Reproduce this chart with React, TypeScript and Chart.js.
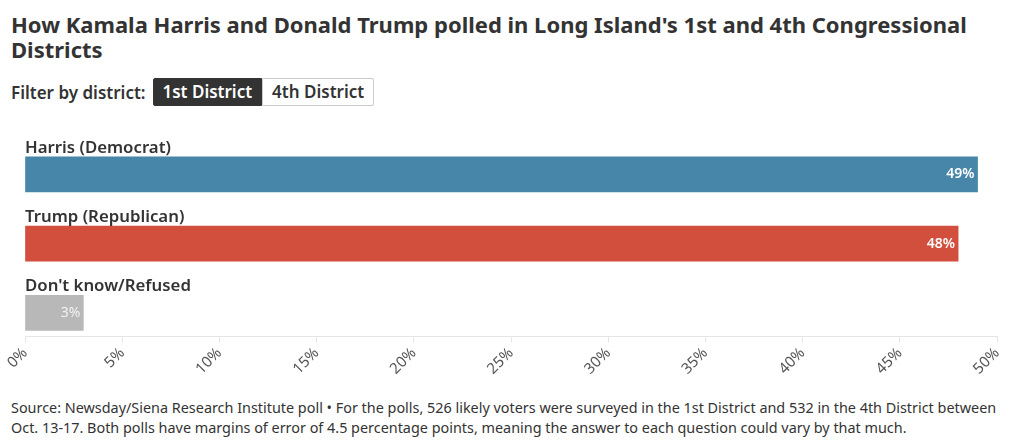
import React, { useEffect, useRef } from "react";
import { Chart, registerables } from "chart.js";

Chart.register(...registerables);

const TITLE =
  "How Kamala Harris and Donald Trump polled in Long Island's 1st and 4th Congressional Districts";
const FILTER_LABEL = "Filter by district:";
const DISTRICTS = ["1st District", "4th District"];
const ACTIVE_DISTRICT = 0;
const CATEGORIES = ["Harris (Democrat)", "Trump (Republican)", "Don't know/Refused"];
const VALUES = [49, 48, 3];
const COLORS = ["#4786a9", "#d24f3d", "#b8b8b8"];
const X_MIN = 0;
const X_MAX = 50;
const X_STEP = 5;
const SOURCE =
  "Source: Newsday/Siena Research Institute poll \u2022 For the polls, 526 likely voters were surveyed in the 1st District and 532 in the 4th District between Oct. 13-17. Both polls have margins of error of 4.5 percentage points, meaning the answer to each question could vary by that much.";

const FONT = "'Noto Sans', 'Open Sans', sans-serif";
const TEXT = "#333333";

const labelPlugin = {
  id: "barLabels",
  afterDatasetsDraw(chart: any) {
    const ctx = chart.ctx;
    const meta = chart.getDatasetMeta(0);
    const xScale = chart.scales.x;
    ctx.save();
    meta.data.forEach((bar: any, i: number) => {
      const h = bar.height;
      const top = bar.y - h / 2;
      ctx.fillStyle = TEXT;
      ctx.font = `600 16.8px ${FONT}`;
      ctx.textAlign = "left";
      ctx.textBaseline = "alphabetic";
      ctx.fillText(CATEGORIES[i], xScale.left, top - 4);
      ctx.fillStyle = i === 2 ? "#f2f2f2" : "#ffffff";
      ctx.font = `${i === 2 ? 400 : 600} 14px ${FONT}`;
      ctx.textAlign = "right";
      ctx.textBaseline = "middle";
      ctx.fillText(VALUES[i] + "%", bar.x - 3, bar.y);
    });
    ctx.restore();
  },
};

function BarChart() {
  const ref = useRef<HTMLCanvasElement | null>(null);
  useEffect(() => {
    if (!ref.current) return;
    const chart = new Chart(ref.current, {
      type: "bar",
      data: {
        datasets: [
          {
            data: VALUES.map((v, i) => ({ x: v, y: i })),
            backgroundColor: COLORS,
            borderWidth: 0,
            barThickness: 35,
          },
        ],
      },
      options: {
        indexAxis: "y",
        animation: false,
        responsive: false,
        maintainAspectRatio: false,
        layout: { padding: { left: 25, right: 23, top: 0, bottom: 0 } },
        plugins: { legend: { display: false }, tooltip: { enabled: false } },
        scales: {
          x: {
            type: "linear",
            min: X_MIN,
            max: X_MAX,
            ticks: {
              stepSize: X_STEP,
              callback: (v: any) => v + "%",
              minRotation: 45,
              maxRotation: 45,
              color: "#555555",
              font: { family: FONT, size: 15 },
              padding: 2,
            },
            grid: {
              drawOnChartArea: false,
              drawTicks: true,
              tickLength: 6,
              color: "#e6e6e6",
            },
            border: { color: "#e6e6e6" },
          },
          y: {
            type: "linear",
            display: false,
            offset: false,
            reverse: true,
            min: -0.784,
            max: 2.338,
            grid: { offset: false },
          },
        },
      },
      plugins: [labelPlugin],
    } as any);
    return () => chart.destroy();
  }, []);
  return <canvas ref={ref} width={1020} height={260} style={{ display: "block" }} />;
}

export default function App() {
  return (
    <div
      style={{
        position: "absolute",
        left: 0,
        top: 0,
        width: 1020,
        height: 445,
        background: "#fff",
        fontFamily: FONT,
        color: TEXT,
        overflow: "hidden",
      }}
    >
      <div
        style={{
          position: "absolute",
          left: 11,
          top: 12,
          width: 1000,
          fontSize: 22,
          fontWeight: 700,
          lineHeight: "25px",
        }}
      >
        {TITLE}
      </div>
      <div
        style={{
          position: "absolute",
          left: 11,
          top: 78,
          height: 28,
          display: "flex",
          alignItems: "center",
          fontSize: 17,
          fontWeight: 600,
        }}
      >
        <span style={{ marginRight: 7 }}>{FILTER_LABEL}</span>
        {DISTRICTS.map((d, i) => (
          <span
            key={d}
            style={{
              boxSizing: "border-box",
              height: 28,
              lineHeight: "26px",
              padding: "0 9px",
              border: "1px solid " + (i === ACTIVE_DISTRICT ? "#333" : "#cccccc"),
              background: i === ACTIVE_DISTRICT ? "#333" : "#fff",
              color: i === ACTIVE_DISTRICT ? "#fff" : TEXT,
              borderRadius: i === 0 ? "2px 0 0 2px" : "0 2px 2px 0",
            }}
          >
            {d}
          </span>
        ))}
      </div>
      <div style={{ position: "absolute", left: 0, top: 120 }}>
        <BarChart />
      </div>
      <div
        style={{
          position: "absolute",
          left: 11,
          top: 398,
          width: 992,
          fontSize: 14.4,
          lineHeight: "20px",
          color: TEXT,
        }}
      >
        {SOURCE}
      </div>
    </div>
  );
}
